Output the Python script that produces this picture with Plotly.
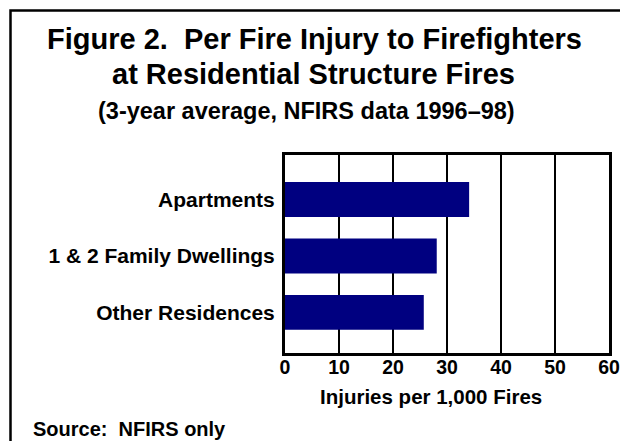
import plotly.graph_objects as go

categories = ["Other Residences", "1 & 2 Family Dwellings", "Apartments"]
values = [25.7, 28.1, 34.1]
x_ticks = [0, 10, 20, 30, 40, 50, 60]

title_line1 = "Figure 2.  Per Fire Injury to Firefighters"
title_line2 = "at Residential Structure Fires"
subtitle = "(3-year average, NFIRS data 1996–98)"
x_title = "Injuries per 1,000 Fires"
source = "Source:  NFIRS only"

W, H = 620, 441
L, R, T, B = 285, 11, 155, 88
pw, ph = W - L - R, H - T - B


def px(x):
    return (x - L) / pw


def py(y):
    return (H - B - y) / ph


FONT = "Liberation Sans, Arial, sans-serif"

fig = go.Figure(go.Bar(
    y=categories, x=values, orientation="h",
    marker=dict(color="#000080", line=dict(width=0)),
    width=0.62,
))

fig.update_layout(
    width=W, height=H, autosize=False,
    margin=dict(l=L, r=R, t=T, b=B, autoexpand=False),
    paper_bgcolor="white", plot_bgcolor="white",
    showlegend=False,
    font=dict(family=FONT, color="black", weight="bold"),
    xaxis=dict(
        range=[0, 60], tickvals=x_ticks, ticktext=[str(v) for v in x_ticks],
        showgrid=True, gridcolor="black", gridwidth=2, automargin=False,
        zeroline=False, showline=True, linecolor="black", linewidth=3,
        mirror=True, ticks="", tickfont=dict(size=19.5, family=FONT, weight="bold"),
        ticklabelstandoff=-5,
    ),
    yaxis=dict(
        categoryorder="array", categoryarray=categories, automargin=False,
        range=[-0.72, 2.79], showgrid=False, zeroline=False,
        showline=True, linecolor="black", linewidth=3, mirror=True,
        ticks="", tickfont=dict(size=21, family=FONT, weight="bold"),
        ticklabelstandoff=3,
    ),
    shapes=[dict(
        type="path", xref="paper", yref="paper",
        path=f"M {px(10.5)} {py(450)} L {px(10.5)} {py(10.5)} L {px(630)} {py(10.5)}",
        line=dict(color="black", width=2.5),
    )],
    annotations=[
        dict(text=title_line1, x=px(314.5), y=py(39), xref="paper", yref="paper",
             showarrow=False, font=dict(size=29, weight="bold"), xanchor="center", yanchor="middle"),
        dict(text=title_line2, x=px(313), y=py(73.5), xref="paper", yref="paper",
             showarrow=False, font=dict(size=29, weight="bold"), xanchor="center", yanchor="middle"),
        dict(text=subtitle, x=px(306.5), y=py(111), xref="paper", yref="paper",
             showarrow=False, font=dict(size=23.5, weight="bold"), xanchor="center", yanchor="middle"),
        dict(text=x_title, x=px(431), y=py(396.5), xref="paper", yref="paper",
             showarrow=False, font=dict(size=20.5, weight="bold"), xanchor="center", yanchor="middle"),
        dict(text=source, x=px(31), y=py(429), xref="paper", yref="paper",
             showarrow=False, font=dict(size=20, weight="bold"), xanchor="left", yanchor="middle"),
    ],
)

fig.write_html("out.html", config={"displayModeBar": False},
               post_script="document.body.style.margin='0';document.body.style.overflow='hidden';")
